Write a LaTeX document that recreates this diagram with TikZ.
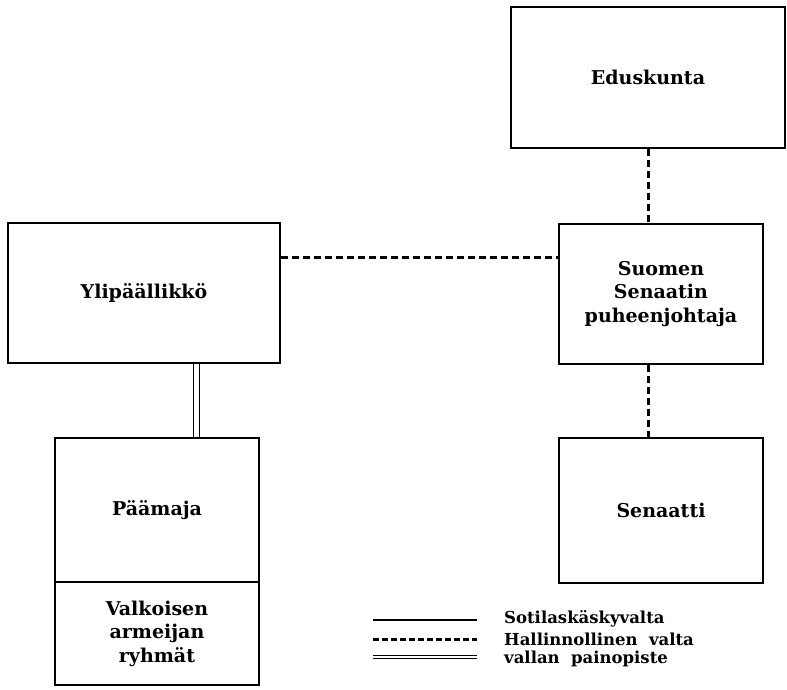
\documentclass[tikz,border=0pt]{standalone}
\usepackage{fontspec}
\setmainfont{DejaVu Serif}
\begin{document}
\begin{tikzpicture}[x=1pt,y=-1pt,
  box/.style={draw,line width=2.6pt,rectangle,inner sep=0pt,align=center,
    font=\fontsize{19}{23.5}\selectfont\bfseries},
  admin/.style={line width=3pt,dash pattern=on 7pt off 4pt},
  cmd/.style={line width=2.4pt},
  dbl/.style={double,line width=1.3pt,double distance=4.5pt},
  lbl/.style={anchor=west,inner sep=0pt,font=\fontsize{16.5}{19}\selectfont\bfseries}]
\useasboundingbox (0,0) rectangle (787,689);
\node[box,minimum width=274pt,minimum height=141pt] (edus) at (648,77.5) {Eduskunta};
\node[box,minimum width=204pt,minimum height=140pt] (suomen) at (661,294) {Suomen\\Senaatin\\puheenjohtaja};
\node[box,minimum width=204pt,minimum height=145pt] (senaatti) at (661,510.5) {Senaatti};
\node[box,minimum width=272pt,minimum height=140pt] (ylip) at (144,293) {Ylipäällikkö};
\node[box,minimum width=204pt,minimum height=144pt] (paamaja) at (157,510) {Päämaja};
\node[box,minimum width=204pt,minimum height=103pt] (valk) at (157,633.5) {Valkoisen\\armeijan\\ryhmät};
\draw[admin] (edus.south) -- (edus.south |- suomen.north);
\draw[admin] (suomen.south -| edus.south) -- (senaatti.north -| edus.south);
\draw[admin] ([yshift=36pt]ylip.east) -- ([yshift=36pt]ylip.east -| suomen.west);
\coordinate (dl) at (196.5,0);
\draw[dbl] (ylip.south -| dl) -- (paamaja.north -| dl);
% legend
\coordinate (l1a) at (373,620); \coordinate (l1b) at (477,620);
\coordinate (l2a) at (373,639.5); \coordinate (l2b) at (477,639.5);
\coordinate (l3a) at (373,657); \coordinate (l3b) at (477,657);
\draw[cmd] (l1a) -- (l1b);
\draw[line width=2.4pt,dash pattern=on 6pt off 3pt] (l2a) -- (l2b);
\draw[double,line width=1pt,double distance=2.5pt] (l3a) -- (l3b);
\node[lbl] (t1) at (504,619) {Sotilaskäskyvalta};
\node[lbl] (t2) at (504,639) {Hallinnollinen\ \ valta};
\node[lbl] (t3) at (504,659) {vallan\ \ painopiste};
\end{tikzpicture}
\end{document}
